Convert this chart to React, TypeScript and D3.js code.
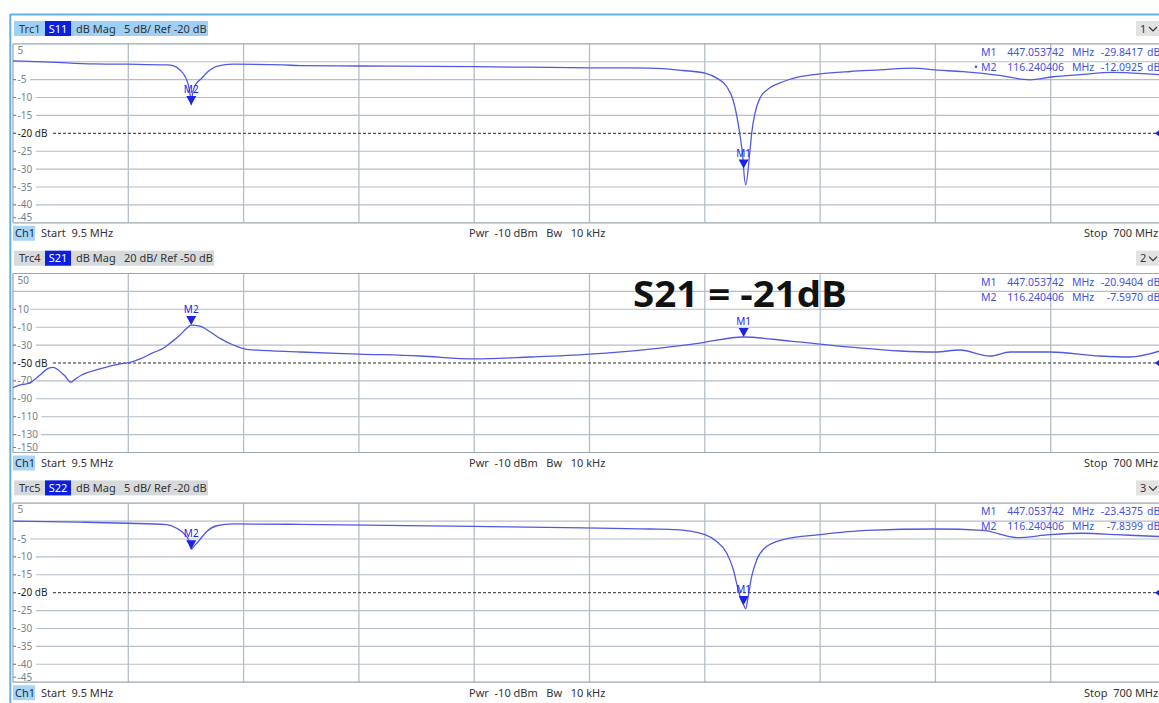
import React from "react";
import * as d3 from "d3";

// ---------- data ----------
const START_MHZ = 9.5;
const STOP_MHZ = 700;

// [frequency MHz, dB]
const s11Trace: [number, number][] = [
  [9.5, 0.25], [31.7, -0.1], [57.4, -0.6], [78.4, -0.7], [101.7, -0.9], [105.3, -1.1],
  [109.5, -2.3], [112.5, -4.1], [114.5, -6.5], [115.8, -10], [116.24, -12.09], [117, -9],
  [118.2, -7], [119.5, -6], [122.5, -4.6], [126.5, -2.7], [131.5, -1.3], [141.4, -0.7],
  [171.4, -0.9], [181.4, -1.1], [216.7, -1.2], [285.6, -1.4], [355, -1.7], [391, -1.8],
  [410.7, -2.46], [423.9, -3.18], [430.9, -4.58], [436.9, -6.93], [440.7, -10.64],
  [443.7, -17.07], [445.3, -21.81], [446.7, -27.4], [447.05, -29.84], [448.3, -34.4],
  [450.9, -24.6], [451.9, -19.9], [453.9, -14.3], [456.9, -10.1], [462.8, -7.3],
  [470.6, -5.6], [480.8, -4.2], [492.8, -3.4], [510.8, -2.74], [528.7, -2.3], [548.5, -1.8],
  [561.7, -2.3], [578.4, -2.8], [598.8, -3.75], [618.6, -5.05], [632.3, -4.2], [648.5, -3.6],
  [668.3, -3.0], [695.2, -3.6], [700, -3.7],
];

const s21Trace: [number, number][] = [
  [9.5, -77.5], [13.7, -74.5], [17.7, -73.4], [21.7, -69.7], [25.7, -63.4], [30.6, -55.9],
  [33.6, -54.8], [36.6, -57.8], [40.6, -64.5], [44.1, -71.5], [46.6, -68.2], [50.6, -63.4],
  [61.6, -56.7], [73.6, -51.1], [79.6, -49.2], [85.6, -45.5], [93.5, -38.5], [99.5, -33.6],
  [103.5, -28], [109.5, -18.8], [113.5, -11.3], [116.24, -7.6], [121.5, -8.8], [127.5, -15.1],
  [133.5, -22.5], [141.4, -29.9], [149.5, -34.7], [181.4, -37.7], [216.7, -40], [253.2, -42.2],
  [285.6, -45.5], [319.1, -43.3], [355, -40], [391, -34.4], [420.9, -27.7], [447.05, -20.94],
  [474.8, -25.5], [510.8, -32.2], [540.7, -36.6], [561.7, -37.7], [576.6, -35.5],
  [594.6, -42.2], [606.6, -37.7], [630.5, -37.7], [660.5, -42.2], [678.4, -43.3], [700, -34.4],
];

const s22Trace: [number, number][] = [
  [9.5, 0], [49.6, -0.3], [77.6, -0.6], [101.5, -1.0], [107.5, -2.0], [112.5, -3.8],
  [114.9, -5.5], [116.24, -7.84], [117.9, -7.0], [120.5, -5.7], [125.5, -2.9], [131.5, -1.3],
  [141.4, -0.8], [181.4, -0.9], [285.6, -1.5], [391, -2.2], [407, -2.4], [423.9, -3.8],
  [430.9, -5.7], [436.9, -8.9], [440.9, -13.6], [443.3, -18.2], [445.9, -22.4],
  [447.05, -23.44], [448.3, -24.5], [449.8, -21], [451.9, -15.4], [454.9, -10.8],
  [460.9, -7.1], [470.8, -5.2], [492.8, -3.8], [520.8, -2.6], [562.7, -2.2], [590.4, -2.6],
  [610.6, -4.6], [630.5, -3.8], [650.3, -3.4], [670.5, -3.8], [695.7, -4.3], [700, -4.4],
];

const markerNames = ["M1", "M2"];
const markerFreqs = [447.053742, 116.240406];
const s11MarkerDb = [-29.8417, -12.0925];
const s21MarkerDb = [-20.9404, -7.597];
const s22MarkerDb = [-23.4375, -7.8399];

const s11TickLabels = ["5", "", "-5", "-10", "-15", "-20 dB", "-25", "-30", "-35", "-40", "-45"];
const s21TickLabels = ["50", "", "10", "-10", "-30", "-50 dB", "-70", "-90", "-110", "-130", "-150"];
const s22TickLabels = ["5", "", "-5", "-10", "-15", "-20 dB", "-25", "-30", "-35", "-40", "-45"];

const channelStart = "Start  9.5 MHz";
const channelMid = "Pwr  -10 dBm   Bw   10 kHz";
const channelStop = "Stop  700 MHz";
const annotation = "S21 = -21dB";

// ---------- layout ----------
const W = 1159;
const H = 703;
const PL = 13;
const PR = 1166;
const PH = 179;
const PANEL_STEP = 229.7;
const FIRST_TOP = 43.8;
const FONT = "'Noto Sans', 'Open Sans', sans-serif";

const C = {
  grid: "#b5bec7",
  border: "#9ba6b0",
  label: "#7b8288",
  refLabel: "#1e1e1e",
  trace: "#5059e2",
  marker: "#1c22e6",
  readout: "#4552de",
  hdrActive: "#9fd0f3",
  hdrIdle: "#d6dadd",
  param: "#0c1fe0",
  ch: "#a9d5f5",
  text: "#333",
  frame: "#62b2ea",
};

const panels = [
  {
    id: "1", trc: "Trc1", param: "S11", scale: "5 dB/ Ref -20 dB", active: true,
    yTop: 5, yBottom: -45, refDb: -20, trace: s11Trace, markerDb: s11MarkerDb,
    ticks: s11TickLabels, hdrW: 194, dot: true,
  },
  {
    id: "2", trc: "Trc4", param: "S21", scale: "20 dB/ Ref -50 dB", active: false,
    yTop: 50, yBottom: -150, refDb: -50, trace: s21Trace, markerDb: s21MarkerDb,
    ticks: s21TickLabels, hdrW: 200, dot: false,
  },
  {
    id: "3", trc: "Trc5", param: "S22", scale: "5 dB/ Ref -20 dB", active: false,
    yTop: 5, yBottom: -45, refDb: -20, trace: s22Trace, markerDb: s22MarkerDb,
    ticks: s22TickLabels, hdrW: 194, dot: false,
  },
];

function Panel({ cfg, index }: { cfg: (typeof panels)[number]; index: number }) {
  const top = FIRST_TOP + index * PANEL_STEP;
  const bottom = top + PH;
  const x = d3.scaleLinear().domain([START_MHZ, STOP_MHZ]).range([PL, PR]);
  const y = d3.scaleLinear().domain([cfg.yTop, cfg.yBottom]).range([top, bottom]);
  const line = d3
    .line<[number, number]>()
    .x((d) => x(d[0]))
    .y((d) => y(d[1]))
    .curve(d3.curveMonotoneX);
  const nDiv = cfg.ticks.length - 1;
  const step = (cfg.yTop - cfg.yBottom) / nDiv;
  const yVals = d3.range(cfg.ticks.length).map((i) => cfg.yTop - i * step);
  const fGrid = d3.range(1, 10).map((i) => START_MHZ + (i * (STOP_MHZ - START_MHZ)) / 10);
  const hdrY = top - 22.8;
  const footY = bottom + 3;
  const clipId = `clip${index}`;

  return (
    <g>
      <defs>
        <clipPath id={clipId}>
          <rect x={PL} y={top} width={W - PL} height={PH} />
        </clipPath>
      </defs>
      {/* header */}
      <rect x={14} y={hdrY} width={cfg.hdrW} height={15} fill={cfg.active ? C.hdrActive : C.hdrIdle} />
      <text x={19} y={hdrY + 11.5} fontSize={11} fill={C.text}>{cfg.trc}</text>
      <rect x={45} y={hdrY} width={26} height={15} fill={C.param} />
      <text x={58} y={hdrY + 11.5} fontSize={11} fill="#fff" textAnchor="middle">{cfg.param}</text>
      <text x={76} y={hdrY + 11.5} fontSize={11} fill={C.text}>dB Mag</text>
      <text x={124} y={hdrY + 11.5} fontSize={11} fill={C.text}>{cfg.scale}</text>
      {/* dropdown */}
      <rect x={1136} y={hdrY} width={23} height={15} fill="#e2e2e2" />
      <text x={1140} y={hdrY + 11.5} fontSize={11} fill={C.text}>{cfg.id}</text>
      <path d={`M1149,${hdrY + 6} L1153,${hdrY + 10} L1157,${hdrY + 6}`} fill="none" stroke={C.text} strokeWidth={1.2} />

      {/* grid */}
      {yVals.map((v, i) =>
        i === 0 || i === nDiv || v === cfg.refDb ? null : (
          <line key={"h" + i} x1={PL} x2={W} y1={y(v)} y2={y(v)} stroke={C.grid} strokeWidth={1.1} />
        )
      )}
      {fGrid.map((f, i) => (
        <line key={"v" + i} x1={x(f)} x2={x(f)} y1={top} y2={bottom} stroke={C.grid} strokeWidth={1.3} />
      ))}
      <line x1={PL} x2={W} y1={top} y2={top} stroke={C.border} strokeWidth={1.2} />
      <line x1={PL} x2={W} y1={bottom} y2={bottom} stroke={C.border} strokeWidth={1.2} />
      <line x1={PL} x2={PL} y1={top} y2={bottom} stroke={C.border} strokeWidth={1.2} />
      {/* reference line */}
      <line x1={PL} x2={W} y1={y(cfg.refDb)} y2={y(cfg.refDb)} stroke="#2a2a2a" strokeWidth={1} strokeDasharray="3,2" />
      <path d={`M${W - 4},${y(cfg.refDb)} L${W},${y(cfg.refDb) - 3} L${W},${y(cfg.refDb) + 3} Z`} fill={C.marker} />

      {/* y labels */}
      {yVals.map((v, i) => {
        const lab = cfg.ticks[i];
        if (!lab) return null;
        const isRef = v === cfg.refDb;
        let ly = y(v);
        if (i === 0) ly = top + 6.5;
        if (i === nDiv) ly = bottom - 5;
        const w = lab.length * 5.6 + 3;
        return (
          <g key={"l" + i}>
            {i !== 0 && i !== nDiv && <rect x={16} y={ly - 5.5} width={w} height={11} fill="#fff" />}
            {i !== 0 && <line x1={PL} x2={16} y1={y(v) - (i === nDiv ? 5 : 0)} y2={y(v) - (i === nDiv ? 5 : 0)} stroke={C.label} strokeWidth={1} />}
            <text x={17.5} y={ly} dy="0.35em" fontSize={10} fill={isRef ? C.refLabel : C.label}>{lab}</text>
          </g>
        );
      })}

      {/* trace */}
      <path d={line(cfg.trace) || ""} fill="none" stroke={C.trace} strokeWidth={1.3} clipPath={`url(#${clipId})`} />

      {/* markers */}
      {markerFreqs.map((f, i) => {
        const mx = x(f);
        const my = y(cfg.markerDb[i]);
        return (
          <g key={"m" + i}>
            <path d={`M${mx - 5},${my - 9} L${mx + 5},${my - 9} L${mx},${my} Z`} fill={C.marker} />
            <text x={mx} y={my - 12} fontSize={10} fill={C.marker} textAnchor="middle">{markerNames[i]}</text>
          </g>
        );
      })}

      {/* readouts */}
      {markerFreqs.map((f, i) => {
        const ry = top + 8.5 + i * 15;
        return (
          <g key={"r" + i} fontSize={10.5} fill={C.readout}>
            {cfg.dot && i === 1 && <circle cx={976} cy={ry - 0.5} r={1.3} fill={C.readout} />}
            <text x={981} y={ry} dy="0.35em">{markerNames[i]}</text>
            <text x={1064} y={ry} dy="0.35em" textAnchor="end">{f.toFixed(6)}</text>
            <text x={1072} y={ry} dy="0.35em">MHz</text>
            <text x={1143} y={ry} dy="0.35em" textAnchor="end">{cfg.markerDb[i].toFixed(4)}</text>
            <text x={1147} y={ry} dy="0.35em">dB</text>
          </g>
        );
      })}

      {/* footer */}
      <rect x={13} y={footY} width={22} height={15} fill={C.ch} />
      <text x={15} y={footY + 11.5} fontSize={11} fill="#1a2c48">Ch1</text>
      <text x={41} y={footY + 11.5} fontSize={11} fill={C.text} style={{ whiteSpace: "pre" }}>{channelStart}</text>
      <text x={469} y={footY + 11.5} fontSize={11} fill={C.text} style={{ whiteSpace: "pre" }}>{channelMid}</text>
      <text x={1084} y={footY + 11.5} fontSize={11} fill={C.text} style={{ whiteSpace: "pre" }}>{channelStop}</text>
    </g>
  );
}

export default function App() {
  return (
    <>
      <style>{"body{margin:0;background:#fff}"}</style>
      <svg width={W} height={H} viewBox={`0 0 ${W} ${H}`} style={{ display: "block", fontFamily: FONT }}>
        <rect x={0} y={0} width={W} height={H} fill="#fff" />
        <line x1={10} x2={W} y1={14.5} y2={14.5} stroke={C.frame} strokeWidth={2} />
        <line x1={10.3} x2={10.3} y1={14} y2={H} stroke={C.frame} strokeWidth={2} />
        {panels.map((p, i) => (
          <Panel key={p.id} cfg={p} index={i} />
        ))}
        <text x={633} y={307} fontSize={35} fontWeight="bold" fill="#111" fontFamily="'Open Sans', 'Liberation Sans', sans-serif" textLength={214} lengthAdjust="spacingAndGlyphs">
          {annotation}
        </text>
      </svg>
    </>
  );
}
